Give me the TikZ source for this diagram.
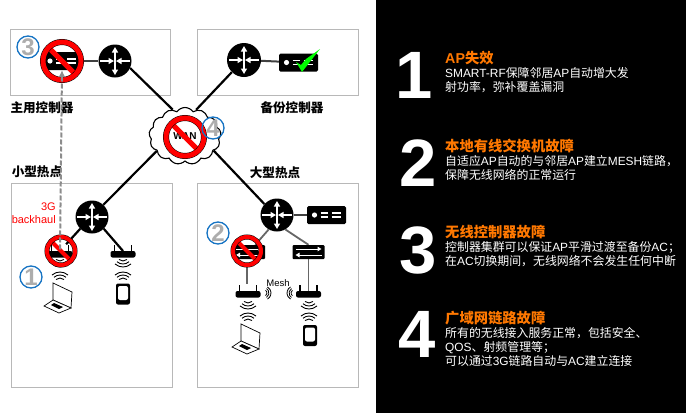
\documentclass[tikz,border=0pt]{standalone}
\usepackage{fontspec}
\setmainfont{Noto Sans CJK SC}
\newfontfamily\enfont{Liberation Sans}
\newcommand{\en}[1]{{\enfont #1}}
\usetikzlibrary{arrows.meta,positioning,backgrounds,shapes.symbols}
\definecolor{ringblue}{RGB}{21,115,195}
\definecolor{headorange}{RGB}{255,120,0}

\tikzset{
  zonebox/.style={draw=black!28, line width=0.9pt},
  routernode/.style={circle, fill=black, minimum size=33pt, inner sep=0pt,
    path picture={
      \draw[white, line width=1.3pt, -{Triangle[length=5.5pt,width=6pt]}] (path picture bounding box.center) -- ++(0,14pt);
      \draw[white, line width=1.3pt, -{Triangle[length=5.5pt,width=6pt]}] (path picture bounding box.center) -- ++(0,-14pt);
      \draw[white, line width=1.3pt, {Triangle[length=5.5pt,width=6pt]}-] ([xshift=1pt]path picture bounding box.center) -- ++(14pt,0);
      \draw[white, line width=1.3pt, {Triangle[length=5.5pt,width=6pt]}-] ([xshift=-1pt]path picture bounding box.center) -- ++(-14pt,0);
    }},
  servernode/.style={rectangle, rounded corners=1.5pt, fill=black, minimum width=39pt, minimum height=18pt, inner sep=0pt,
    path picture={
      \fill[white] ([xshift=-12pt]path picture bounding box.center) circle (2.6pt);
      \draw[white, line width=1.3pt] ([shift={(-6pt,2pt)}]path picture bounding box.center) -- ++(7pt,0);
      \draw[white, line width=1.3pt] ([shift={(-6pt,-2pt)}]path picture bounding box.center) -- ++(7pt,0);
      \draw[white, line width=1.3pt] ([shift={(5pt,2pt)}]path picture bounding box.center) -- ++(9pt,0);
      \draw[white, line width=1.3pt] ([shift={(5pt,-2pt)}]path picture bounding box.center) -- ++(9pt,0);
    }},
  switchnode/.style={rectangle, rounded corners=1pt, fill=black, minimum width=32pt, minimum height=14pt, inner sep=0pt,
    path picture={
      \draw[white, line width=1pt, -{Triangle[length=4pt,width=4.5pt]}] ([shift={(-13pt,3pt)}]path picture bounding box.center) -- ++(26pt,0);
      \draw[white, line width=1pt, {Triangle[length=4pt,width=4.5pt]}-] ([shift={(-13pt,-3pt)}]path picture bounding box.center) -- ++(26pt,0);
    }},
  apnode/.style={rectangle, minimum width=25pt, minimum height=13pt, inner sep=0pt,
    path picture={
      \fill[black, rounded corners=2pt] ([shift={(-12.5pt,-6.5pt)}]path picture bounding box.center) rectangle ++(25pt,6.5pt);
      \draw[black, line width=1.1pt] ([shift={(-8.5pt,-3pt)}]path picture bounding box.center) -- ++(0,9.5pt);
      \draw[black, line width=1.1pt] ([shift={(8.5pt,-3pt)}]path picture bounding box.center) -- ++(0,9.5pt);
    }},
  phonenode/.style={rectangle, rounded corners=2pt, fill=black, minimum width=14pt, minimum height=21pt, inner sep=0pt,
    path picture={
      \fill[white] ([shift={(-5pt,-6pt)}]path picture bounding box.center) rectangle ++(10pt,14pt);
    }},
  bannode/.style={circle, draw=black, line width=0.5pt, double=red, double distance=#1, inner sep=0pt,
    path picture={
      \draw[red, line width=#1] ([shift={(-20pt,20pt)}]path picture bounding box.center) -- ++(40pt,-40pt);
    }},
  stepring/.style={circle, draw=ringblue, line width=1.3pt, minimum size=22pt, inner sep=0pt,
    text=black!32, font=\enfont\bfseries\fontsize{24}{24}\selectfont},
  tag/.style={font=\bfseries\fontsize{12.6}{13}\selectfont, inner sep=0pt},
  link/.style={line width=2.2pt, black},
  greylink/.style={line width=1.8pt, black!60},
  numeral/.style={text=white, font=\enfont\bfseries\fontsize{67}{67}\selectfont, inner sep=0pt},
  headtext/.style={text=headorange, anchor=west, inner sep=0pt, font=\bfseries\fontsize{14.3}{15}\selectfont},
  bodytext/.style={text=white, align=left, anchor=north west, inner sep=0pt, font=\fontsize{11.9}{14.2}\selectfont},
  pics/waves/.style={code={
    \foreach \r in {6,9,12} {
      \draw[black, line width=0.9pt] ([shift={(48:\r pt)}]0,0) arc[start angle=48, end angle=132, radius=\r pt];
    }
  }},
  pics/meshwaves/.style={code={
    \foreach \r in {3,5,7} {
      \draw[black, line width=0.8pt] ([shift={(30:\r pt)}]0,0) arc[start angle=30, end angle=150, radius=\r pt];
    }
  }},
  pics/laptop/.style={code={
    \draw[black, line width=0.7pt, fill=white] (-7,-15) -- (12,-6) -- (11,10) -- (-7,2) -- cycle;
    \draw[black, line width=0.7pt, fill=white] (-7,2) -- (-16,8) -- (-1,15) -- (11,10) -- cycle;
    \fill[black] (-9,7) -- (-6,5) -- (3,9) -- (-1,11) -- cycle;
  }}
}

\begin{document}
\begin{tikzpicture}[x=1pt, y=-1pt]
\useasboundingbox (0,0) rectangle (686,413);
\fill[black] (376,0) rectangle (686,413);

% core and controllers
\node[cloud, cloud puffs=13, cloud puff arc=110, aspect=1.3, draw, line width=1.1pt, fill=white,
      minimum width=72pt, minimum height=57pt, inner sep=0pt,
      font=\enfont\bfseries\fontsize{10}{10}\selectfont] (wan) at (185,136) {WAN};
\node[routernode] (rtrmain) at (115,61) {};
\node[servernode] (srvmain) at (62,61) {};
\node[routernode, minimum size=34pt] (rtrbackup) at (244,60) {};
\node[servernode] (srvbackup) at (298.5,62.5) {};
\node[routernode] (rtrsmall) at (92,217) {};
\node[routernode] (rtrlarge) at (277,215) {};
\node[servernode] (srvlarge) at (326.5,215) {};
\node[switchnode] (swleft) at (249,252) {};
\node[switchnode] (swright) at (308.5,252) {};

% access points and clients
\node[apnode] (apone) at (60,251) {};
\node[apnode] (aptwo) at (123,251) {};
\node[apnode] (apleft) at (248,291) {};
\node[apnode] (apright) at (308.5,291) {};
\node[phonenode] (phoneone) at (123,294) {};
\node[phonenode] (phonetwo) at (310,335.5) {};
\pic[rotate=180] at (60,255) {waves};
\pic at (60,284) {waves};
\pic at (60,298) {laptop};
\pic[rotate=180] at (123,255) {waves};
\pic at (123,284) {waves};
\pic[rotate=180] at (248,297) {waves};
\pic at (248,325) {waves};
\pic at (248,339) {laptop};
\pic[rotate=180] at (309,297) {waves};
\pic at (309,325) {waves};
\pic[rotate=-90] at (264,293) {meshwaves};
\pic[rotate=90] at (294,293) {meshwaves};

\node[inner sep=0pt, font=\enfont\fontsize{9.5}{9.5}\selectfont] (meshlabel) at (278,283) {Mesh};

\node[bannode=5pt, minimum size=38pt] (banmain) at (62,61) {};
\node[bannode=5pt, minimum size=38pt] (banwan) at (185,137) {};
\node[bannode=4pt, minimum size=28pt] (banap) at (61,251) {};
\node[bannode=4pt, minimum size=28pt] (banswitch) at (247,251) {};
\fill[green] (296,62) -- (302,72) -- (320,49) -- (306,59) -- (301,65) -- cycle;

% rings
\node[stepring] (ringone) at (31,277) {\raisebox{-4pt}{1}};
\node[stepring] (ringtwo) at (218,233) {\raisebox{-4pt}{2}};
\node[stepring] (ringthree) at (28,47) {\raisebox{-4pt}{3}};
\node[stepring] (ringfour) at (213,128) {\raisebox{-4pt}{4}};

% labels
\node[tag] (maintag) at (42,108) {主用控制器};
\node[tag] (backuptag) at (292,108) {备份控制器};
\node[tag] (smalltag) at (37,172) {小型热点};
\node[tag] (largetag) at (275,173) {大型热点};
\node[text=red, align=right, anchor=east, inner sep=0pt, font=\enfont\fontsize{11}{13}\selectfont] (backhaul) at (56,213.5) {3G\\backhaul};

\begin{scope}[on background layer]
\draw[zonebox] (10,29) rectangle (170,95);
\draw[zonebox] (197,29) rectangle (358,95);
\draw[zonebox] (11,183) rectangle (172,387);
\draw[zonebox] (197,183) rectangle (358,387);
\draw[line width=2pt, black!75] (rtrmain) -- (srvmain);
\draw[line width=2pt, black!75] (rtrbackup) -- (srvbackup);
\draw[line width=2pt, black!75] (rtrlarge) -- (srvlarge);
\draw[link] (rtrmain.-25) -- (wan.115);
\draw[link] (rtrbackup.225) -- (wan.67);
\draw[link] (rtrsmall.47) -- (wan.208);
\draw[link] (rtrlarge.139) -- (wan.-27);
\draw[link] (rtrsmall.225) -- (apone);
\draw[link] (rtrsmall.-45) -- (aptwo.center);
\draw[greylink] (rtrlarge.240) -- (swleft);
\draw[greylink] (rtrlarge.-60) -- (swright.north);
\draw[greylink] (banswitch.south) -- (apleft.north -| banswitch);
\draw[greylink] (swright) -- (apright.center);
\end{scope}
\draw[black!45, line width=2pt, dash pattern=on 5pt off 2pt, {Latex[length=7pt,width=7pt]}-] (srvmain.south) -- (apone.center);

% right panel
\node[numeral] (numone) at (414,75) {1};
\node[headtext] (headone) at (445,58) {\en{AP}失效};
\node[bodytext, below=2pt of headone.south west, anchor=north west] (bodyone) {\en{SMART-RF}保障邻居\en{AP}自动增大发\\射功率，弥补覆盖漏洞};

\node[numeral] (numtwo) at (418,163) {2};
\node[headtext] (headtwo) at (445,146) {本地有线交换机故障};
\node[bodytext, below=2pt of headtwo.south west, anchor=north west] (bodytwo) {自适应\en{AP}自动的与邻居\en{AP}建立\en{MESH}链路，\\保障无线网络的正常运行};

\node[numeral] (numthree) at (418,250) {3};
\node[headtext] (headthree) at (445,232) {无线控制器故障};
\node[bodytext, below=2pt of headthree.south west, anchor=north west] (bodythree) {控制器集群可以保证\en{AP}平滑过渡至备份\en{AC}；\\在\en{AC}切换期间，无线网络不会发生任何中断};

\node[numeral] (numfour) at (417,334) {4};
\node[headtext] (headfour) at (445,318) {广域网链路故障};
\node[bodytext, below=2pt of headfour.south west, anchor=north west] (bodyfour) {所有的无线接入服务正常，包括安全、\\\en{QOS}、射频管理等；\\可以通过\en{3G}链路自动与\en{AC}建立连接};
\end{tikzpicture}
\end{document}
